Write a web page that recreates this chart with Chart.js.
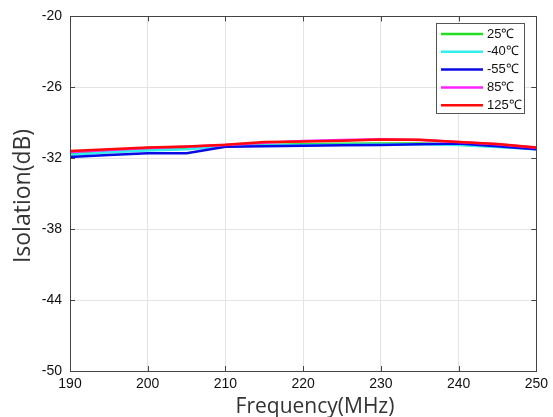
<!DOCTYPE html>
<html>
<head>
<meta charset="utf-8">
<script src="https://cdn.jsdelivr.net/npm/chart.js@4/dist/chart.umd.min.js"></script>
<style>
  html, body { margin: 0; padding: 0; background: #fff; }
  #wrap { width: 553px; height: 417px; position: relative; }
</style>
</head>
<body>
<div id="wrap"><canvas id="isolation"></canvas></div>
<script>
// frequency points (MHz)
var freq = [190, 195, 200, 205, 210, 215, 220, 225, 230, 235, 240, 245, 250];

// isolation (dB) per temperature
var iso25  = [-31.64, -31.45, -31.28, -31.15, -30.98, -30.88, -30.82, -30.78, -30.75, -30.76, -30.85, -31.00, -31.20];
var isoM40 = [-31.72, -31.50, -31.35, -31.25, -31.00, -30.92, -30.88, -30.85, -30.84, -30.82, -30.87, -31.05, -31.25];
var isoM55 = [-31.89, -31.72, -31.57, -31.57, -31.02, -30.98, -30.95, -30.90, -30.87, -30.82, -30.75, -30.98, -31.25];
var iso85  = [-31.47, -31.30, -31.13, -31.03, -30.88, -30.70, -30.55, -30.45, -30.40, -30.45, -30.62, -30.82, -31.12];
var iso125 = [-31.39, -31.24, -31.09, -31.00, -30.85, -30.62, -30.58, -30.52, -30.42, -30.44, -30.62, -30.80, -31.10];

var seriesNames = ['25℃', '-40℃', '-55℃', '85℃', '125℃'];
var seriesColors = ['#22dd22', '#33eeee', '#0a0ae6', '#ff22ff', '#ff0a0a'];
var seriesData = [iso25, isoM40, isoM55, iso85, iso125];
// red drawn on top, green at the bottom
var seriesOrder = [4, 3, 2, 1, 0];

var xTicks = [190, 200, 210, 220, 230, 240, 250];
var yTicks = [-50, -44, -38, -32, -26, -20];

var xTitle = 'Frequency(MHz)';
var yTitle = 'Isolation(dB)';

function toPoints(vals) {
    return freq.map(function (f, i) { return { x: f, y: vals[i] }; });
}

var datasets = seriesNames.map(function (name, i) {
    return {
        label: name,
        data: toPoints(seriesData[i]),
        borderColor: seriesColors[i],
        backgroundColor: seriesColors[i],
        borderWidth: 2.5,
        pointRadius: 0,
        tension: 0,
        order: seriesOrder[i]
    };
});

// box frame with inward ticks, axis titles and the boxed legend
var framePlugin = {
    id: 'frame',
    afterDraw: function (chart) {
        var ctx = chart.ctx, a = chart.chartArea;
        var xs = chart.scales.x, ys = chart.scales.y;
        ctx.save();
        ctx.strokeStyle = '#444';
        ctx.lineWidth = 1;
        ctx.beginPath();
        xTicks.forEach(function (v) {
            var px = Math.round(xs.getPixelForValue(v)) + 0.5;
            ctx.moveTo(px, a.bottom); ctx.lineTo(px, a.bottom - 5);
            ctx.moveTo(px, a.top); ctx.lineTo(px, a.top + 5);
        });
        yTicks.forEach(function (v) {
            var py = Math.round(ys.getPixelForValue(v)) + 0.5;
            ctx.moveTo(a.left, py); ctx.lineTo(a.left + 5, py);
            ctx.moveTo(a.right, py); ctx.lineTo(a.right - 5, py);
        });
        ctx.stroke();
        ctx.strokeRect(Math.round(a.left) + 0.5, Math.round(a.top) + 0.5,
            Math.round(a.right - a.left), Math.round(a.bottom - a.top));

        // axis titles
        ctx.fillStyle = '#333';
        ctx.textBaseline = 'alphabetic';
        ctx.textAlign = 'center';
        ctx.font = '21px "Open Sans", sans-serif';
        ctx.fillText(xTitle, 315, 413);
        ctx.save();
        ctx.translate(30, 196);
        ctx.rotate(-Math.PI / 2);
        ctx.font = '23px "Open Sans", sans-serif';
        ctx.fillText(yTitle, 0, 0);
        ctx.restore();

        // legend
        var lx = 436, ly = 23, lw = 88, lh = 90;
        ctx.fillStyle = '#fff';
        ctx.fillRect(lx, ly, lw, lh);
        ctx.strokeStyle = '#555';
        ctx.lineWidth = 1;
        ctx.strokeRect(lx + 0.5, ly + 0.5, lw, lh);
        ctx.font = '13px "Liberation Sans", Arial, sans-serif';
        ctx.textAlign = 'left';
        ctx.textBaseline = 'middle';
        chart.data.datasets.forEach(function (ds, i) {
            var y = ly + 11 + i * 17.8;
            ctx.strokeStyle = ds.borderColor;
            ctx.lineWidth = 2.5;
            ctx.beginPath();
            ctx.moveTo(lx + 5, y);
            ctx.lineTo(lx + 47, y);
            ctx.stroke();
            ctx.fillStyle = '#111';
            ctx.fillText(ds.label, lx + 51, y);
        });
        ctx.restore();
    }
};

var tickFont = { family: '"Liberation Sans", Arial, sans-serif', size: 14 };

var chart = new Chart(document.getElementById('isolation'), {
    type: 'line',
    data: { datasets: datasets },
    options: {
        responsive: true,
        maintainAspectRatio: false,
        animation: false,
        layout: { padding: { top: 14, right: 15, left: 0, bottom: 0 } },
        plugins: {
            legend: { display: false },
            tooltip: { enabled: false }
        },
        scales: {
            x: {
                type: 'linear',
                min: 190,
                max: 250,
                afterBuildTicks: function (scale) {
                    scale.ticks = xTicks.map(function (v) { return { value: v }; });
                },
                afterFit: function (scale) { scale.height = 46; },
                grid: { color: '#e4e4e4', drawTicks: false },
                border: { display: false },
                ticks: { color: '#111', font: tickFont, padding: 5, maxRotation: 0 }
            },
            y: {
                min: -50,
                max: -20,
                afterBuildTicks: function (scale) {
                    scale.ticks = yTicks.map(function (v) { return { value: v }; });
                },
                afterFit: function (scale) { scale.width = 70; },
                grid: { color: '#e4e4e4', drawTicks: false },
                border: { display: false },
                ticks: { color: '#111', font: tickFont, padding: 8 }
            }
        }
    },
    plugins: [framePlugin]
});
</script>
</body>
</html>
